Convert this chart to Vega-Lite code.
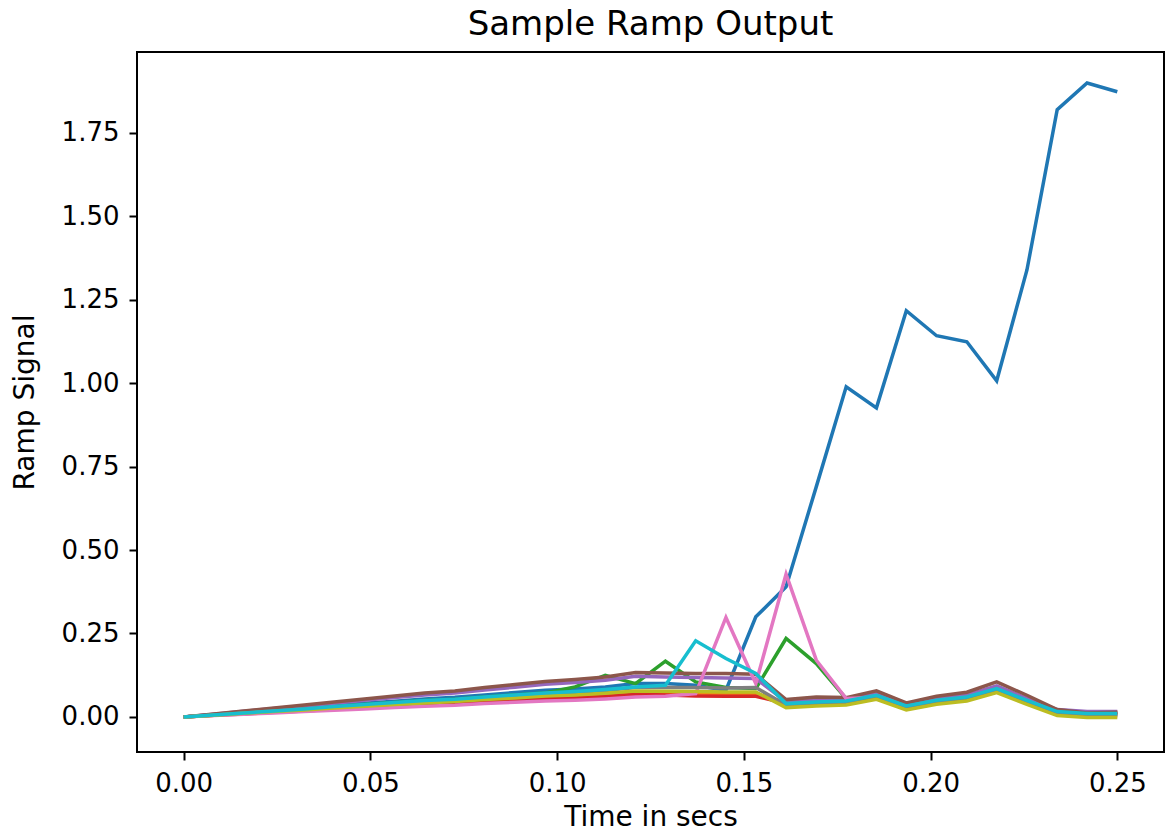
{
"$schema":"https://vega.github.io/schema/vega-lite/v6.json",
"width":1027,"height":700,
"autosize":{"type":"none"},
"padding":{"left":137,"top":52,"right":11,"bottom":87},
"background":"white",
"title":{"text":"Sample Ramp Output","fontSize":34,"font":"DejaVu Sans","fontWeight":"normal","color":"#000","anchor":"middle","offset":10},
"datasets":{"ramp":[
{"s":"0","t":0,"v":0},{"s":"0","t":0.0081,"v":0.007},{"s":"0","t":0.0161,"v":0.014},{"s":"0","t":0.0242,"v":0.02},{"s":"0","t":0.0323,"v":0.027},{"s":"0","t":0.0403,"v":0.034},{"s":"0","t":0.0484,"v":0.041},{"s":"0","t":0.0565,"v":0.047},{"s":"0","t":0.0645,"v":0.054},{"s":"0","t":0.0726,"v":0.059},{"s":"0","t":0.0806,"v":0.066},{"s":"0","t":0.0887,"v":0.073},{"s":"0","t":0.0968,"v":0.08},{"s":"0","t":0.1048,"v":0.084},{"s":"0","t":0.1129,"v":0.09},{"s":"0","t":0.121,"v":0.1},{"s":"0","t":0.129,"v":0.1},{"s":"0","t":0.1371,"v":0.095},{"s":"0","t":0.1452,"v":0.08},{"s":"0","t":0.1532,"v":0.3},{"s":"0","t":0.1613,"v":0.39},{"s":"0","t":0.1694,"v":0.69},{"s":"0","t":0.1774,"v":0.989},{"s":"0","t":0.1855,"v":0.926},{"s":"0","t":0.1935,"v":1.217},{"s":"0","t":0.2016,"v":1.142},{"s":"0","t":0.2097,"v":1.124},{"s":"0","t":0.2177,"v":1.007},{"s":"0","t":0.2258,"v":1.339},{"s":"0","t":0.2339,"v":1.819},{"s":"0","t":0.2419,"v":1.899},{"s":"0","t":0.25,"v":1.873},
{"s":"1","t":0,"v":0},{"s":"1","t":0.0081,"v":0.005},{"s":"1","t":0.0161,"v":0.01},{"s":"1","t":0.0242,"v":0.015},{"s":"1","t":0.0323,"v":0.02},{"s":"1","t":0.0403,"v":0.025},{"s":"1","t":0.0484,"v":0.03},{"s":"1","t":0.0565,"v":0.035},{"s":"1","t":0.0645,"v":0.04},{"s":"1","t":0.0726,"v":0.044},{"s":"1","t":0.0806,"v":0.049},{"s":"1","t":0.0887,"v":0.054},{"s":"1","t":0.0968,"v":0.059},{"s":"1","t":0.1048,"v":0.063},{"s":"1","t":0.1129,"v":0.067},{"s":"1","t":0.121,"v":0.075},{"s":"1","t":0.129,"v":0.074},{"s":"1","t":0.1371,"v":0.072},{"s":"1","t":0.1452,"v":0.07},{"s":"1","t":0.1532,"v":0.07},{"s":"1","t":0.1613,"v":0.043},{"s":"1","t":0.1694,"v":0.048},{"s":"1","t":0.1774,"v":0.051},{"s":"1","t":0.1855,"v":0.068},{"s":"1","t":0.1935,"v":0.036},{"s":"1","t":0.2016,"v":0.053},{"s":"1","t":0.2097,"v":0.063},{"s":"1","t":0.2177,"v":0.088},{"s":"1","t":0.2258,"v":0.053},{"s":"1","t":0.2339,"v":0.019},{"s":"1","t":0.2419,"v":0.013},{"s":"1","t":0.25,"v":0.013},
{"s":"2","t":0,"v":0},{"s":"2","t":0.0081,"v":0.006},{"s":"2","t":0.0161,"v":0.012},{"s":"2","t":0.0242,"v":0.018},{"s":"2","t":0.0323,"v":0.024},{"s":"2","t":0.0403,"v":0.031},{"s":"2","t":0.0484,"v":0.037},{"s":"2","t":0.0565,"v":0.043},{"s":"2","t":0.0645,"v":0.049},{"s":"2","t":0.0726,"v":0.053},{"s":"2","t":0.0806,"v":0.06},{"s":"2","t":0.0887,"v":0.066},{"s":"2","t":0.0968,"v":0.072},{"s":"2","t":0.1048,"v":0.09},{"s":"2","t":0.1129,"v":0.125},{"s":"2","t":0.121,"v":0.1},{"s":"2","t":0.129,"v":0.167},{"s":"2","t":0.1371,"v":0.105},{"s":"2","t":0.1452,"v":0.088},{"s":"2","t":0.1532,"v":0.085},{"s":"2","t":0.1613,"v":0.235},{"s":"2","t":0.1694,"v":0.16},{"s":"2","t":0.1774,"v":0.055},{"s":"2","t":0.1855,"v":0.063},{"s":"2","t":0.1935,"v":0.031},{"s":"2","t":0.2016,"v":0.048},{"s":"2","t":0.2097,"v":0.058},{"s":"2","t":0.2177,"v":0.083},{"s":"2","t":0.2258,"v":0.048},{"s":"2","t":0.2339,"v":0.014},{"s":"2","t":0.2419,"v":0.008},{"s":"2","t":0.25,"v":0.008},
{"s":"3","t":0,"v":0},{"s":"3","t":0.0081,"v":0.005},{"s":"3","t":0.0161,"v":0.009},{"s":"3","t":0.0242,"v":0.014},{"s":"3","t":0.0323,"v":0.018},{"s":"3","t":0.0403,"v":0.023},{"s":"3","t":0.0484,"v":0.028},{"s":"3","t":0.0565,"v":0.032},{"s":"3","t":0.0645,"v":0.037},{"s":"3","t":0.0726,"v":0.04},{"s":"3","t":0.0806,"v":0.045},{"s":"3","t":0.0887,"v":0.049},{"s":"3","t":0.0968,"v":0.054},{"s":"3","t":0.1048,"v":0.057},{"s":"3","t":0.1129,"v":0.061},{"s":"3","t":0.121,"v":0.068},{"s":"3","t":0.129,"v":0.066},{"s":"3","t":0.1371,"v":0.063},{"s":"3","t":0.1452,"v":0.062},{"s":"3","t":0.1532,"v":0.062},{"s":"3","t":0.1613,"v":0.04},{"s":"3","t":0.1694,"v":0.045},{"s":"3","t":0.1774,"v":0.048},{"s":"3","t":0.1855,"v":0.065},{"s":"3","t":0.1935,"v":0.033},{"s":"3","t":0.2016,"v":0.05},{"s":"3","t":0.2097,"v":0.06},{"s":"3","t":0.2177,"v":0.085},{"s":"3","t":0.2258,"v":0.05},{"s":"3","t":0.2339,"v":0.016},{"s":"3","t":0.2419,"v":0.01},{"s":"3","t":0.25,"v":0.01},
{"s":"4","t":0,"v":0},{"s":"4","t":0.0081,"v":0.008},{"s":"4","t":0.0161,"v":0.017},{"s":"4","t":0.0242,"v":0.025},{"s":"4","t":0.0323,"v":0.033},{"s":"4","t":0.0403,"v":0.041},{"s":"4","t":0.0484,"v":0.05},{"s":"4","t":0.0565,"v":0.058},{"s":"4","t":0.0645,"v":0.066},{"s":"4","t":0.0726,"v":0.072},{"s":"4","t":0.0806,"v":0.081},{"s":"4","t":0.0887,"v":0.089},{"s":"4","t":0.0968,"v":0.098},{"s":"4","t":0.1048,"v":0.103},{"s":"4","t":0.1129,"v":0.11},{"s":"4","t":0.121,"v":0.122},{"s":"4","t":0.129,"v":0.12},{"s":"4","t":0.1371,"v":0.118},{"s":"4","t":0.1452,"v":0.117},{"s":"4","t":0.1532,"v":0.115},{"s":"4","t":0.1613,"v":0.046},{"s":"4","t":0.1694,"v":0.051},{"s":"4","t":0.1774,"v":0.054},{"s":"4","t":0.1855,"v":0.071},{"s":"4","t":0.1935,"v":0.039},{"s":"4","t":0.2016,"v":0.056},{"s":"4","t":0.2097,"v":0.066},{"s":"4","t":0.2177,"v":0.093},{"s":"4","t":0.2258,"v":0.056},{"s":"4","t":0.2339,"v":0.022},{"s":"4","t":0.2419,"v":0.016},{"s":"4","t":0.25,"v":0.016},
{"s":"5","t":0,"v":0},{"s":"5","t":0.0081,"v":0.009},{"s":"5","t":0.0161,"v":0.018},{"s":"5","t":0.0242,"v":0.027},{"s":"5","t":0.0323,"v":0.036},{"s":"5","t":0.0403,"v":0.045},{"s":"5","t":0.0484,"v":0.054},{"s":"5","t":0.0565,"v":0.063},{"s":"5","t":0.0645,"v":0.072},{"s":"5","t":0.0726,"v":0.078},{"s":"5","t":0.0806,"v":0.088},{"s":"5","t":0.0887,"v":0.097},{"s":"5","t":0.0968,"v":0.106},{"s":"5","t":0.1048,"v":0.112},{"s":"5","t":0.1129,"v":0.12},{"s":"5","t":0.121,"v":0.133},{"s":"5","t":0.129,"v":0.132},{"s":"5","t":0.1371,"v":0.13},{"s":"5","t":0.1452,"v":0.13},{"s":"5","t":0.1532,"v":0.128},{"s":"5","t":0.1613,"v":0.052},{"s":"5","t":0.1694,"v":0.06},{"s":"5","t":0.1774,"v":0.058},{"s":"5","t":0.1855,"v":0.078},{"s":"5","t":0.1935,"v":0.042},{"s":"5","t":0.2016,"v":0.062},{"s":"5","t":0.2097,"v":0.074},{"s":"5","t":0.2177,"v":0.105},{"s":"5","t":0.2258,"v":0.065},{"s":"5","t":0.2339,"v":0.022},{"s":"5","t":0.2419,"v":0.012},{"s":"5","t":0.25,"v":0.014},
{"s":"6","t":0,"v":0},{"s":"6","t":0.0081,"v":0.004},{"s":"6","t":0.0161,"v":0.008},{"s":"6","t":0.0242,"v":0.012},{"s":"6","t":0.0323,"v":0.016},{"s":"6","t":0.0403,"v":0.02},{"s":"6","t":0.0484,"v":0.024},{"s":"6","t":0.0565,"v":0.028},{"s":"6","t":0.0645,"v":0.032},{"s":"6","t":0.0726,"v":0.035},{"s":"6","t":0.0806,"v":0.04},{"s":"6","t":0.0887,"v":0.044},{"s":"6","t":0.0968,"v":0.048},{"s":"6","t":0.1048,"v":0.05},{"s":"6","t":0.1129,"v":0.054},{"s":"6","t":0.121,"v":0.06},{"s":"6","t":0.129,"v":0.062},{"s":"6","t":0.1371,"v":0.07},{"s":"6","t":0.1452,"v":0.298},{"s":"6","t":0.1532,"v":0.1},{"s":"6","t":0.1613,"v":0.428},{"s":"6","t":0.1694,"v":0.17},{"s":"6","t":0.1774,"v":0.055},{"s":"6","t":0.1855,"v":0.058},{"s":"6","t":0.1935,"v":0.026},{"s":"6","t":0.2016,"v":0.043},{"s":"6","t":0.2097,"v":0.053},{"s":"6","t":0.2177,"v":0.078},{"s":"6","t":0.2258,"v":0.043},{"s":"6","t":0.2339,"v":0.009},{"s":"6","t":0.2419,"v":0.003},{"s":"6","t":0.25,"v":0.003},
{"s":"7","t":0,"v":0},{"s":"7","t":0.0081,"v":0.006},{"s":"7","t":0.0161,"v":0.012},{"s":"7","t":0.0242,"v":0.018},{"s":"7","t":0.0323,"v":0.024},{"s":"7","t":0.0403,"v":0.03},{"s":"7","t":0.0484,"v":0.036},{"s":"7","t":0.0565,"v":0.042},{"s":"7","t":0.0645,"v":0.048},{"s":"7","t":0.0726,"v":0.051},{"s":"7","t":0.0806,"v":0.058},{"s":"7","t":0.0887,"v":0.064},{"s":"7","t":0.0968,"v":0.07},{"s":"7","t":0.1048,"v":0.074},{"s":"7","t":0.1129,"v":0.079},{"s":"7","t":0.121,"v":0.088},{"s":"7","t":0.129,"v":0.088},{"s":"7","t":0.1371,"v":0.088},{"s":"7","t":0.1452,"v":0.087},{"s":"7","t":0.1532,"v":0.088},{"s":"7","t":0.1613,"v":0.036},{"s":"7","t":0.1694,"v":0.041},{"s":"7","t":0.1774,"v":0.044},{"s":"7","t":0.1855,"v":0.061},{"s":"7","t":0.1935,"v":0.029},{"s":"7","t":0.2016,"v":0.046},{"s":"7","t":0.2097,"v":0.056},{"s":"7","t":0.2177,"v":0.081},{"s":"7","t":0.2258,"v":0.046},{"s":"7","t":0.2339,"v":0.012},{"s":"7","t":0.2419,"v":0.006},{"s":"7","t":0.25,"v":0.006},
{"s":"8","t":0,"v":0},{"s":"8","t":0.0081,"v":0.005},{"s":"8","t":0.0161,"v":0.011},{"s":"8","t":0.0242,"v":0.016},{"s":"8","t":0.0323,"v":0.021},{"s":"8","t":0.0403,"v":0.027},{"s":"8","t":0.0484,"v":0.032},{"s":"8","t":0.0565,"v":0.037},{"s":"8","t":0.0645,"v":0.042},{"s":"8","t":0.0726,"v":0.046},{"s":"8","t":0.0806,"v":0.052},{"s":"8","t":0.0887,"v":0.057},{"s":"8","t":0.0968,"v":0.063},{"s":"8","t":0.1048,"v":0.066},{"s":"8","t":0.1129,"v":0.071},{"s":"8","t":0.121,"v":0.078},{"s":"8","t":0.129,"v":0.077},{"s":"8","t":0.1371,"v":0.076},{"s":"8","t":0.1452,"v":0.075},{"s":"8","t":0.1532,"v":0.075},{"s":"8","t":0.1613,"v":0.028},{"s":"8","t":0.1694,"v":0.033},{"s":"8","t":0.1774,"v":0.036},{"s":"8","t":0.1855,"v":0.053},{"s":"8","t":0.1935,"v":0.021},{"s":"8","t":0.2016,"v":0.038},{"s":"8","t":0.2097,"v":0.048},{"s":"8","t":0.2177,"v":0.073},{"s":"8","t":0.2258,"v":0.038},{"s":"8","t":0.2339,"v":0.004},{"s":"8","t":0.2419,"v":-0.002},{"s":"8","t":0.25,"v":-0.002},
{"s":"9","t":0,"v":0},{"s":"9","t":0.0081,"v":0.006},{"s":"9","t":0.0161,"v":0.012},{"s":"9","t":0.0242,"v":0.018},{"s":"9","t":0.0323,"v":0.024},{"s":"9","t":0.0403,"v":0.031},{"s":"9","t":0.0484,"v":0.037},{"s":"9","t":0.0565,"v":0.043},{"s":"9","t":0.0645,"v":0.049},{"s":"9","t":0.0726,"v":0.053},{"s":"9","t":0.0806,"v":0.06},{"s":"9","t":0.0887,"v":0.066},{"s":"9","t":0.0968,"v":0.072},{"s":"9","t":0.1048,"v":0.076},{"s":"9","t":0.1129,"v":0.082},{"s":"9","t":0.121,"v":0.09},{"s":"9","t":0.129,"v":0.095},{"s":"9","t":0.1371,"v":0.228},{"s":"9","t":0.1452,"v":0.175},{"s":"9","t":0.1532,"v":0.13},{"s":"9","t":0.1613,"v":0.04},{"s":"9","t":0.1694,"v":0.045},{"s":"9","t":0.1774,"v":0.048},{"s":"9","t":0.1855,"v":0.065},{"s":"9","t":0.1935,"v":0.033},{"s":"9","t":0.2016,"v":0.05},{"s":"9","t":0.2097,"v":0.06},{"s":"9","t":0.2177,"v":0.085},{"s":"9","t":0.2258,"v":0.05},{"s":"9","t":0.2339,"v":0.016},{"s":"9","t":0.2419,"v":0.01},{"s":"9","t":0.25,"v":0.01}
]},
"data":{"name":"ramp"},
"mark":{"type":"line","strokeWidth":3.5,"clip":true},
"encoding":{
"x":{"field":"t","type":"quantitative","scale":{"domain":[-0.0125,0.2625],"nice":false,"zero":false},"axis":{"title":"Time in secs","values":[0,0.05,0.1,0.15,0.2,0.25],"format":".2f"}},
"y":{"field":"v","type":"quantitative","scale":{"domain":[-0.105,1.992],"nice":false,"zero":false},"axis":{"title":"Ramp Signal","values":[0,0.25,0.5,0.75,1,1.25,1.5,1.75],"format":".2f"}},
"color":{"field":"s","type":"nominal","scale":{"domain":["0","1","2","3","4","5","6","7","8","9"],"range":["#1f77b4","#ff7f0e","#2ca02c","#d62728","#9467bd","#8c564b","#e377c2","#7f7f7f","#bcbd22","#17becf"]},"legend":null}
},
"config":{
"view":{"stroke":"#000","strokeWidth":2},
"axis":{"grid":false,"domain":false,"tickColor":"#000","tickWidth":2,"tickSize":8,"labelFont":"DejaVu Sans","labelFontSize":26,"labelColor":"#000","labelPadding":10,"titleFont":"DejaVu Sans","titleFontSize":28,"titleFontWeight":"normal","titleColor":"#000"},
"axisX":{"titlePadding":7},
"axisY":{"titlePadding":22}
}
}
